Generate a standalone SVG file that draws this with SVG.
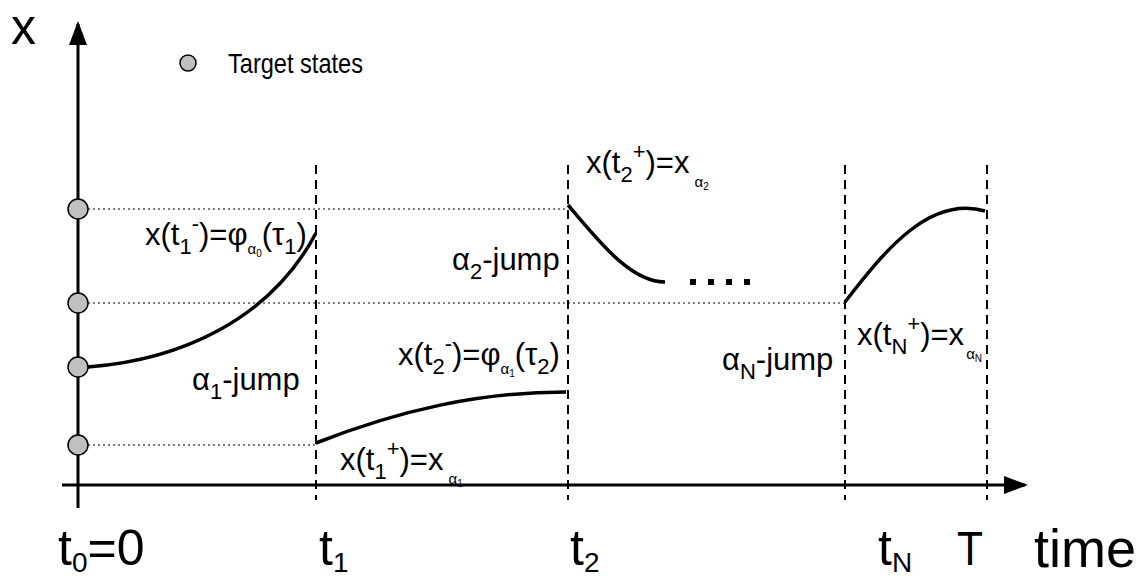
<svg xmlns="http://www.w3.org/2000/svg" width="1145" height="576" viewBox="0 0 1145 576">
<style>
text{font-family:"Liberation Sans",Arial,sans-serif;fill:#000}
.lab{font-size:31px}
.dash{stroke:#000;stroke-width:2;stroke-dasharray:9,6;fill:none}
.dot{stroke:#000;stroke-width:1;stroke-dasharray:2,3;fill:none}
.curve{stroke:#000;stroke-width:3.5;fill:none;stroke-linecap:butt}
.ts{fill:#c0c0c0;stroke:#000;stroke-width:1.5}
</style>
<defs>
<marker id="arr" markerWidth="8" markerHeight="6" refX="7" refY="3" orient="auto" markerUnits="strokeWidth"><path d="M0,0 L8,3 L0,6 z" fill="#000"/></marker>
</defs>
<rect width="1145" height="576" fill="#fff"/>
<g id="guides">
<line class="dot" x1="88" y1="209" x2="568" y2="209"/>
<line class="dot" x1="88" y1="303" x2="845" y2="303"/>
<line class="dot" x1="88" y1="445" x2="316" y2="445"/>
<line class="dash" x1="316" y1="165" x2="316" y2="500"/>
<line class="dash" x1="568" y1="165" x2="568" y2="500"/>
<line class="dash" x1="845" y1="165" x2="845" y2="500"/>
<line class="dash" x1="987" y1="165" x2="987" y2="500"/>
</g>
<g id="axes">
<line x1="78" y1="508" x2="78" y2="24" stroke="#000" stroke-width="3" marker-end="url(#arr)"/>
<line x1="62" y1="485" x2="1025" y2="485" stroke="#000" stroke-width="3" marker-end="url(#arr)"/>
<text x="11" y="44" font-size="50">x</text>
<text x="1034" y="567" font-size="54" textLength="102" lengthAdjust="spacingAndGlyphs">time</text>
</g>
<g id="connectors">
<path class="curve" d="M88,367 C180,360 270,320 316,233"/>
<path class="curve" d="M316,443 C400,410 480,392 566,392"/>
<path class="curve" d="M568,205 C598,240 630,282 665,282"/>
<path class="curve" d="M845,302 C885,250 930,195 985,211"/>
<g fill="#000"><rect x="690" y="279" width="6" height="6"/><rect x="708" y="279" width="6" height="6"/><rect x="726" y="279" width="6" height="6"/><rect x="744" y="279" width="6" height="6"/></g>
</g>
<g id="targets">
<circle class="ts" cx="78" cy="209" r="10"/>
<circle class="ts" cx="78" cy="303" r="10"/>
<circle class="ts" cx="78" cy="367" r="10"/>
<circle class="ts" cx="78" cy="445" r="10"/>
</g>
<g id="legend">
<circle class="ts" cx="188" cy="63" r="8"/>
<text x="228" y="73" font-size="28" textLength="135" lengthAdjust="spacingAndGlyphs">Target states</text>
</g>
<g id="labels" class="lab">
<text x="145" y="245" class="lab">x(t<tspan font-size="22" dy="9">1</tspan><tspan font-size="22" dy="-23">-</tspan><tspan dy="14">)=φ</tspan><tspan font-size="15" dy="9">α</tspan><tspan font-size="10" dy="3">0</tspan><tspan dy="-12">(τ</tspan><tspan font-size="22" dy="9">1</tspan><tspan dy="-9">)</tspan></text>
<text x="586" y="173" class="lab">x(t<tspan font-size="22" dy="9">2</tspan><tspan font-size="22" dy="-23">+</tspan><tspan dy="14">)=x</tspan><tspan font-size="15" dx="5" dy="14">α</tspan><tspan font-size="10" dy="3">2</tspan></text>
<text x="452" y="270" class="lab">α<tspan font-size="22" dy="9">2</tspan><tspan dy="-9">-jump</tspan></text>
<text x="398" y="365" class="lab">x(t<tspan font-size="22" dy="9">2</tspan><tspan font-size="22" dy="-23">-</tspan><tspan dy="14">)=φ</tspan><tspan font-size="15" dy="9">α</tspan><tspan font-size="10" dy="3">1</tspan><tspan dy="-12">(τ</tspan><tspan font-size="22" dy="9">2</tspan><tspan dy="-9">)</tspan></text>
<text x="192" y="390" class="lab">α<tspan font-size="22" dy="9">1</tspan><tspan dy="-9">-jump</tspan></text>
<text x="722" y="370" class="lab">α<tspan font-size="22" dy="9">N</tspan><tspan dy="-9">-jump</tspan></text>
<text x="857" y="345" class="lab">x(t<tspan font-size="22" dy="9">N</tspan><tspan font-size="22" dy="-23">+</tspan><tspan dy="14">)=x</tspan><tspan font-size="15" dx="2" dy="14">α</tspan><tspan font-size="10" dy="3">N</tspan></text>
<text x="340" y="470" class="lab">x(t<tspan font-size="22" dy="9">1</tspan><tspan font-size="22" dy="-23">+</tspan><tspan dy="14">)=x</tspan><tspan font-size="15" dx="5" dy="14">α</tspan><tspan font-size="10" dy="3">1</tspan></text>
</g>
<g id="ticks">
<text x="58" y="565" font-size="50">t<tspan font-size="28" dy="7">0</tspan><tspan dy="-7">=0</tspan></text>
<text x="319" y="565" font-size="50">t<tspan font-size="28" dy="7">1</tspan></text>
<text x="570" y="565" font-size="50">t<tspan font-size="28" dy="7">2</tspan></text>
<text x="878" y="565" font-size="50">t<tspan font-size="28" dy="7">N</tspan></text>
<text x="957" y="565" font-size="48" textLength="26" lengthAdjust="spacingAndGlyphs">T</text>
</g>
</svg>
